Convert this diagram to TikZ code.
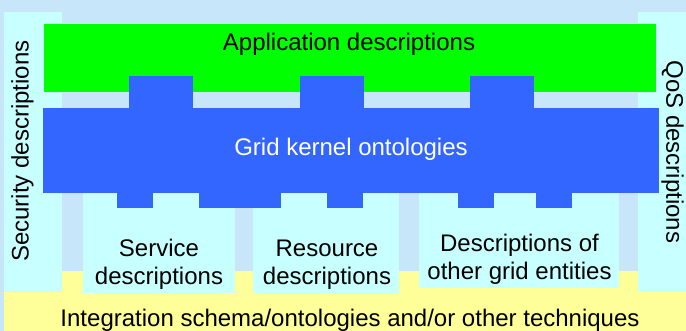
\documentclass[tikz,border=0pt]{standalone}
\usepackage{fontspec}
\setmainfont{Liberation Sans}
\usepackage{xcolor}
\usetikzlibrary{positioning}

\definecolor{skyblue}{HTML}{C8E6FA}
\definecolor{paleblue}{HTML}{C8FFFF}
\definecolor{appgreen}{HTML}{00FF00}
\definecolor{kernelblue}{HTML}{3366FF}
\definecolor{paleyellow}{HTML}{FFFF99}

\begin{document}
\begin{tikzpicture}[x=1pt,y=-1pt,
  lbl/.style={font=\fontsize{24}{28}\selectfont, align=center, inner sep=0pt}]
\useasboundingbox (0,0) rectangle (686,331);
\fill[skyblue] (0,0) rectangle (686,331);
\fill[paleyellow] (4,271) rectangle (686,331);
\fill[paleblue] (4,12) rectangle (62,292);
\fill[paleblue] (638,12) rectangle (686,291);
\fill[paleblue] (83,193) rectangle (235,293);
\fill[paleblue] (253,193) rectangle (399,293);
\fill[paleblue] (419,193) rectangle (619,288);
\fill[appgreen] (44,24) rectangle (656,92);
\fill[kernelblue] (43,108) rectangle (659,193);
\foreach \a/\b in {129/193, 300/364, 470/534}
  \fill[kernelblue] (\a,76) rectangle (\b,108);
\foreach \a/\b in {117/153, 199/281, 327/363, 458/494, 536/572}
  \fill[kernelblue] (\a,192) rectangle (\b,208);
\node[lbl] (app) at (349,44) {Application descriptions};
\node[lbl, text=white] (kernel) at (351,149) {Grid kernel ontologies};
\node[lbl] (service) at (159,264.75) {Service\\descriptions};
\node[lbl] (resource) at (327,264.5) {Resource\\descriptions};
\node[lbl] (entities) at (519.5,259.75) {Descriptions of\\other grid entities};
\node[lbl, rotate=90] (security) at (22.5,151) {Security descriptions};
\node[lbl, rotate=-90] (qos) at (672.5,152) {QoS descriptions};
\node[lbl] (integration) at (350,320) {Integration schema/ontologies and/or other techniques};
\end{tikzpicture}
\end{document}
